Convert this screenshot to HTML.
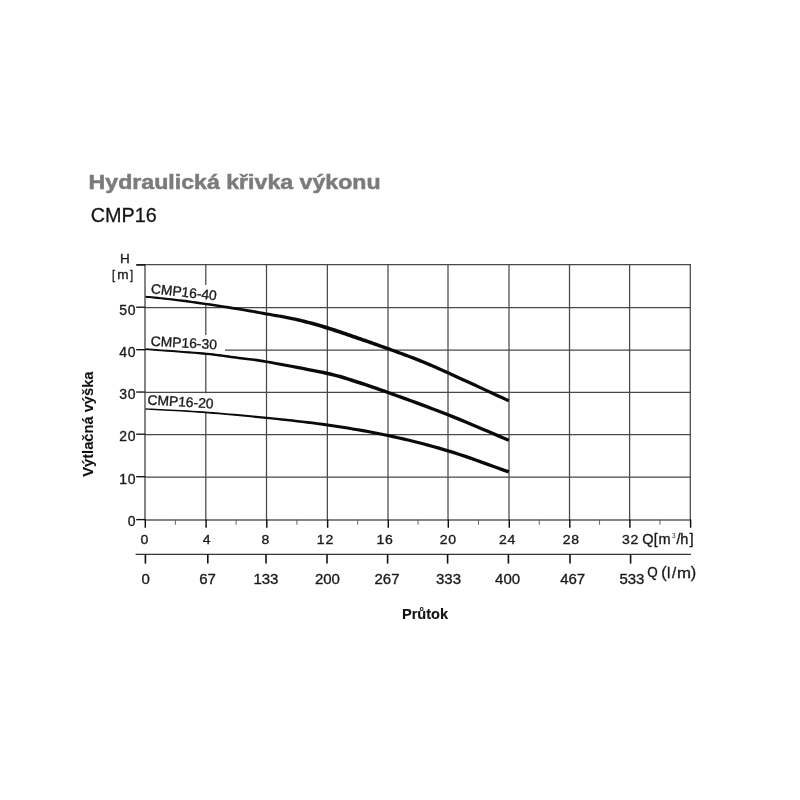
<!DOCTYPE html>
<html lang="cs"><head><meta charset="utf-8"><title>Hydraulická křivka výkonu CMP16</title>
<style>
html,body{margin:0;padding:0;background:#fff;}
body{width:800px;height:800px;position:relative;overflow:hidden;font-family:"Liberation Sans",sans-serif;}
</style></head><body>
<svg width="800" height="800" viewBox="0 0 800 800" style="position:absolute;left:0;top:0;will-change:transform">
<g font-family="Liberation Sans, sans-serif" stroke="#1a1a1a" stroke-width="0.35" id="all">
<g stroke="#484848" stroke-width="1.25" fill="none">
<line x1="205.80" y1="263.90" x2="205.80" y2="519.90"/>
<line x1="266.50" y1="263.90" x2="266.50" y2="519.90"/>
<line x1="327.35" y1="263.90" x2="327.35" y2="519.90"/>
<line x1="388.00" y1="263.90" x2="388.00" y2="519.90"/>
<line x1="448.00" y1="263.90" x2="448.00" y2="519.90"/>
<line x1="509.00" y1="263.90" x2="509.00" y2="519.90"/>
<line x1="569.50" y1="263.90" x2="569.50" y2="519.90"/>
<line x1="629.60" y1="263.90" x2="629.60" y2="519.90"/>
<line x1="690.30" y1="263.90" x2="690.30" y2="519.90"/>
<line x1="145.00" y1="477.00" x2="690.90" y2="477.00"/>
<line x1="145.00" y1="434.50" x2="690.90" y2="434.50"/>
<line x1="145.00" y1="392.35" x2="690.90" y2="392.35"/>
<line x1="145.00" y1="350.00" x2="690.90" y2="350.00"/>
<line x1="145.00" y1="307.50" x2="690.90" y2="307.50"/>
<line x1="145.00" y1="264.50" x2="690.90" y2="264.50"/>
</g>
<g stroke="#5c5c5c" stroke-width="1.5" fill="none">
<line x1="145.00" y1="263.90" x2="145.00" y2="520.60"/>
<line x1="145.00" y1="519.90" x2="690.90" y2="519.90"/>
</g>
<g fill="#fff" stroke="none">
<rect x="146" y="345" width="79" height="8"/>
<rect x="203" y="285" width="6" height="19"/>
<rect x="203" y="335" width="6" height="19"/>
<rect x="203" y="393.3" width="6" height="19"/>
</g>
<g stroke="#111" stroke-width="1.35">
<line x1="136.2" y1="519.60" x2="145.30" y2="519.60"/>
<line x1="136.2" y1="476.70" x2="145.30" y2="476.70"/>
<line x1="136.2" y1="434.20" x2="145.30" y2="434.20"/>
<line x1="136.2" y1="392.05" x2="145.30" y2="392.05"/>
<line x1="136.2" y1="349.70" x2="145.30" y2="349.70"/>
<line x1="136.2" y1="307.20" x2="145.30" y2="307.20"/>
<line x1="136.2" y1="264.90" x2="145.30" y2="264.90" stroke-width="1.7"/>
</g>
<g stroke="#0c0c0c" stroke-width="1.45">
<line x1="145.30" y1="519.50" x2="145.30" y2="527.8"/>
<line x1="206.10" y1="519.50" x2="206.10" y2="527.8"/>
<line x1="266.80" y1="519.50" x2="266.80" y2="527.8"/>
<line x1="327.65" y1="519.50" x2="327.65" y2="527.8"/>
<line x1="388.30" y1="519.50" x2="388.30" y2="527.8"/>
<line x1="448.30" y1="519.50" x2="448.30" y2="527.8"/>
<line x1="509.30" y1="519.50" x2="509.30" y2="527.8"/>
<line x1="569.80" y1="519.50" x2="569.80" y2="527.8"/>
<line x1="629.90" y1="519.50" x2="629.90" y2="527.8"/>
<line x1="690.60" y1="519.50" x2="690.60" y2="527.8"/>
</g>
<g stroke="#555" stroke-width="0.9">
<line x1="175.40" y1="519.90" x2="175.40" y2="524.8"/>
<line x1="236.15" y1="519.90" x2="236.15" y2="524.8"/>
<line x1="296.93" y1="519.90" x2="296.93" y2="524.8"/>
<line x1="357.68" y1="519.90" x2="357.68" y2="524.8"/>
<line x1="418.00" y1="519.90" x2="418.00" y2="524.8"/>
<line x1="478.50" y1="519.90" x2="478.50" y2="524.8"/>
<line x1="539.25" y1="519.90" x2="539.25" y2="524.8"/>
<line x1="599.55" y1="519.90" x2="599.55" y2="524.8"/>
<line x1="659.95" y1="519.90" x2="659.95" y2="524.8"/>
</g>
<line x1="135.6" y1="554.4" x2="691" y2="554.4" stroke="#333" stroke-width="1.2"/>
<g stroke="#111" stroke-width="1.6">
<line x1="145.40" y1="554.4" x2="145.40" y2="563.6"/>
<line x1="207.80" y1="554.4" x2="207.80" y2="563.6"/>
<line x1="266.00" y1="554.4" x2="266.00" y2="563.6"/>
<line x1="327.00" y1="554.4" x2="327.00" y2="563.6"/>
<line x1="387.60" y1="554.4" x2="387.60" y2="563.6"/>
<line x1="447.60" y1="554.4" x2="447.60" y2="563.6"/>
<line x1="508.40" y1="554.4" x2="508.40" y2="563.6"/>
<line x1="570.00" y1="554.4" x2="570.00" y2="563.6"/>
<line x1="630.60" y1="554.4" x2="630.60" y2="563.6"/>
</g>
<g fill="#0a0a0a" stroke="none">
<path d="M145.40,297.70 L147.16,297.89 L149.30,298.11 L151.78,298.36 L154.55,298.64 L157.58,298.95 L160.83,299.29 L164.27,299.66 L167.85,300.05 L171.53,300.47 L175.29,300.92 L179.07,301.39 L182.85,301.89 L186.79,302.44 L191.03,303.05 L195.52,303.70 L200.18,304.40 L204.95,305.12 L209.75,305.86 L214.54,306.60 L219.23,307.34 L223.77,308.06 L228.09,308.74 L232.11,309.39 L235.78,309.98 L239.10,310.52 L242.15,311.03 L244.97,311.51 L247.59,311.97 L250.06,312.40 L252.41,312.83 L254.67,313.25 L256.90,313.66 L259.12,314.07 L261.37,314.50 L263.70,314.93 L266.13,315.38 L268.63,315.84 L271.10,316.29 L273.55,316.73 L275.99,317.17 L278.43,317.61 L280.86,318.05 L283.29,318.51 L285.73,318.98 L288.17,319.47 L290.63,319.98 L293.11,320.53 L295.61,321.11 L298.15,321.71 L300.71,322.34 L303.29,322.99 L305.90,323.67 L308.51,324.37 L311.13,325.09 L313.76,325.82 L316.39,326.57 L319.01,327.34 L321.63,328.11 L324.23,328.89 L326.81,329.68 L329.37,330.48 L331.93,331.30 L334.49,332.13 L337.04,332.99 L339.59,333.85 L342.15,334.71 L344.70,335.58 L347.25,336.45 L349.79,337.32 L352.33,338.19 L354.87,339.06 L357.41,339.93 L359.93,340.78 L362.45,341.64 L364.96,342.49 L367.46,343.34 L369.96,344.20 L372.46,345.06 L374.95,345.92 L377.45,346.78 L379.94,347.65 L382.43,348.53 L384.92,349.41 L387.42,350.30 L389.92,351.20 L392.42,352.10 L394.92,353.00 L397.42,353.91 L399.92,354.82 L402.42,355.73 L404.91,356.66 L407.41,357.59 L409.90,358.53 L412.39,359.49 L414.88,360.47 L417.38,361.46 L419.77,362.42 L422.01,363.32 L424.14,364.20 L426.22,365.05 L428.29,365.92 L430.42,366.83 L432.65,367.79 L435.05,368.84 L437.66,369.99 L440.54,371.27 L443.74,372.70 L447.32,374.30 L451.50,376.19 L456.37,378.41 L461.78,380.88 L467.55,383.54 L473.55,386.29 L479.59,389.08 L485.54,391.82 L491.22,394.45 L496.48,396.88 L501.15,399.04 L505.09,400.85 L508.13,402.25 L509.47,399.35 L506.44,397.94 L502.50,396.12 L497.83,393.95 L492.57,391.52 L486.90,388.88 L480.96,386.13 L474.91,383.34 L468.92,380.57 L463.14,377.91 L457.74,375.42 L452.86,373.19 L448.68,371.30 L445.10,369.68 L441.89,368.24 L439.01,366.96 L436.39,365.80 L433.98,364.74 L431.73,363.77 L429.59,362.86 L427.50,361.98 L425.41,361.11 L423.27,360.23 L421.03,359.32 L418.62,358.34 L416.12,357.34 L413.61,356.36 L411.10,355.39 L408.59,354.44 L406.09,353.50 L403.58,352.57 L401.08,351.64 L398.58,350.73 L396.08,349.82 L393.58,348.91 L391.08,348.01 L388.58,347.10 L386.08,346.19 L383.59,345.29 L381.09,344.39 L378.60,343.50 L376.11,342.61 L373.62,341.73 L371.13,340.85 L368.63,339.97 L366.13,339.10 L363.62,338.22 L361.11,337.35 L358.59,336.47 L356.07,335.59 L353.54,334.71 L351.01,333.82 L348.47,332.92 L345.92,332.03 L343.37,331.14 L340.81,330.26 L338.24,329.40 L335.66,328.55 L333.08,327.73 L330.49,326.91 L327.89,326.12 L325.29,325.35 L322.66,324.58 L320.03,323.82 L317.39,323.07 L314.74,322.33 L312.08,321.61 L309.44,320.90 L306.80,320.22 L304.17,319.55 L301.55,318.91 L298.96,318.29 L296.39,317.69 L293.84,317.15 L291.32,316.63 L288.82,316.15 L286.34,315.70 L283.88,315.27 L281.42,314.85 L278.97,314.44 L276.53,314.04 L274.08,313.65 L271.62,313.25 L269.15,312.84 L266.67,312.42 L264.23,311.99 L261.91,311.57 L259.65,311.17 L257.43,310.77 L255.20,310.37 L252.92,309.96 L250.56,309.55 L248.08,309.13 L245.45,308.69 L242.61,308.23 L239.55,307.74 L236.22,307.22 L232.54,306.66 L228.50,306.05 L224.18,305.40 L219.63,304.72 L214.93,304.03 L210.13,303.33 L205.31,302.64 L200.53,301.96 L195.86,301.31 L191.36,300.69 L187.10,300.12 L183.15,299.61 L179.35,299.14 L175.55,298.70 L171.78,298.28 L168.08,297.88 L164.49,297.52 L161.04,297.18 L157.79,296.86 L154.75,296.58 L151.97,296.32 L149.50,296.08 L147.36,295.88 L145.60,295.70Z"/>
<path d="M145.44,350.05 L148.29,350.27 L151.98,350.55 L156.34,350.88 L161.25,351.25 L166.55,351.66 L172.12,352.08 L177.79,352.52 L183.44,352.97 L188.92,353.41 L194.08,353.85 L198.79,354.26 L202.89,354.65 L206.50,355.00 L209.82,355.36 L212.90,355.71 L215.76,356.06 L218.46,356.41 L221.03,356.76 L223.50,357.10 L225.92,357.45 L228.33,357.80 L230.76,358.14 L233.25,358.49 L235.84,358.84 L238.38,359.17 L240.73,359.46 L242.94,359.72 L245.08,359.97 L247.19,360.22 L249.34,360.48 L251.59,360.77 L253.99,361.10 L256.60,361.48 L259.47,361.93 L262.68,362.46 L266.27,363.08 L270.37,363.84 L275.00,364.70 L280.06,365.66 L285.43,366.69 L291.02,367.77 L296.70,368.89 L302.39,370.02 L307.97,371.15 L313.34,372.26 L318.39,373.33 L323.02,374.34 L327.11,375.26 L330.70,376.07 L333.92,376.85 L336.83,377.59 L339.47,378.30 L341.90,378.99 L344.17,379.66 L346.34,380.33 L348.46,381.01 L350.58,381.70 L352.75,382.41 L355.04,383.15 L357.47,383.92 L359.90,384.68 L362.15,385.39 L364.30,386.08 L366.38,386.76 L368.47,387.45 L370.60,388.16 L372.83,388.93 L375.23,389.76 L377.83,390.67 L380.69,391.69 L383.87,392.82 L387.42,394.10 L391.37,395.52 L395.68,397.08 L400.29,398.75 L405.17,400.51 L410.25,402.36 L415.49,404.28 L420.84,406.25 L426.24,408.26 L431.65,410.29 L437.01,412.33 L442.27,414.35 L447.38,416.36 L452.61,418.45 L458.16,420.71 L463.93,423.09 L469.82,425.54 L475.71,428.02 L481.50,430.47 L487.09,432.85 L492.36,435.09 L497.21,437.16 L501.53,439.01 L505.21,440.58 L508.16,441.82 L509.44,438.78 L506.50,437.54 L502.82,435.97 L498.51,434.12 L493.66,432.05 L488.39,429.79 L482.80,427.41 L477.00,424.96 L471.10,422.47 L465.21,420.01 L459.43,417.61 L453.86,415.34 L448.62,413.24 L443.48,411.23 L438.21,409.19 L432.84,407.14 L427.42,405.11 L422.01,403.09 L416.66,401.11 L411.41,399.19 L406.33,397.33 L401.45,395.56 L396.83,393.89 L392.52,392.33 L388.58,390.90 L385.03,389.61 L381.85,388.47 L378.98,387.44 L376.37,386.51 L373.96,385.67 L371.71,384.89 L369.57,384.16 L367.47,383.46 L365.37,382.77 L363.21,382.07 L360.95,381.35 L358.53,380.58 L356.11,379.81 L353.84,379.07 L351.67,378.35 L349.54,377.66 L347.40,376.96 L345.20,376.28 L342.89,375.58 L340.42,374.87 L337.73,374.14 L334.79,373.38 L331.52,372.58 L327.89,371.74 L323.76,370.87 L319.10,369.92 L314.02,368.93 L308.62,367.89 L303.01,366.84 L297.30,365.79 L291.58,364.75 L285.98,363.74 L280.58,362.79 L275.51,361.91 L270.85,361.11 L266.73,360.42 L263.12,359.82 L259.89,359.30 L256.98,358.87 L254.35,358.50 L251.92,358.19 L249.66,357.91 L247.49,357.66 L245.37,357.42 L243.23,357.19 L241.02,356.94 L238.69,356.67 L236.16,356.36 L233.58,356.02 L231.10,355.69 L228.67,355.36 L226.26,355.03 L223.83,354.69 L221.35,354.36 L218.77,354.03 L216.05,353.70 L213.17,353.36 L210.07,353.03 L206.73,352.69 L203.11,352.35 L198.98,352.01 L194.26,351.64 L189.08,351.26 L183.60,350.88 L177.94,350.49 L172.26,350.11 L166.69,349.74 L161.38,349.39 L156.47,349.07 L152.10,348.79 L148.42,348.54 L145.56,348.35Z"/>
<path d="M145.46,409.70 L148.22,409.85 L151.65,410.04 L155.66,410.24 L160.15,410.48 L165.04,410.73 L170.24,411.01 L175.66,411.31 L181.22,411.62 L186.81,411.96 L192.35,412.31 L197.76,412.67 L202.94,413.05 L208.02,413.45 L213.19,413.88 L218.44,414.32 L223.74,414.79 L229.08,415.28 L234.44,415.78 L239.82,416.29 L245.20,416.82 L250.56,417.35 L255.89,417.90 L261.17,418.44 L266.39,419.00 L271.56,419.56 L276.70,420.12 L281.81,420.68 L286.91,421.25 L291.98,421.83 L297.04,422.42 L302.09,423.03 L307.14,423.66 L312.17,424.31 L317.21,424.99 L322.25,425.70 L327.29,426.44 L332.35,427.19 L337.40,427.96 L342.44,428.74 L347.48,429.55 L352.52,430.38 L357.56,431.24 L362.58,432.13 L367.61,433.04 L372.63,433.99 L377.65,434.98 L382.66,436.00 L387.67,437.06 L392.67,438.16 L397.66,439.27 L402.65,440.42 L407.63,441.60 L412.61,442.81 L417.58,444.06 L422.56,445.35 L427.54,446.67 L432.52,448.03 L437.51,449.44 L442.51,450.89 L447.52,452.38 L452.73,454.00 L458.27,455.80 L464.03,457.74 L469.91,459.76 L475.80,461.83 L481.59,463.89 L487.17,465.89 L492.43,467.80 L497.28,469.56 L501.60,471.13 L505.29,472.46 L508.23,473.50 L509.37,470.30 L506.43,469.26 L502.75,467.94 L498.43,466.38 L493.58,464.63 L488.31,462.73 L482.71,460.73 L476.91,458.67 L471.01,456.61 L465.10,454.59 L459.31,452.65 L453.73,450.85 L448.48,449.22 L443.44,447.73 L438.41,446.28 L433.39,444.88 L428.38,443.52 L423.38,442.19 L418.38,440.91 L413.38,439.67 L408.38,438.46 L403.38,437.28 L398.37,436.14 L393.36,435.02 L388.33,433.94 L383.30,432.89 L378.26,431.89 L373.21,430.92 L368.17,429.99 L363.12,429.10 L358.07,428.23 L353.02,427.40 L347.96,426.59 L342.90,425.80 L337.84,425.04 L332.78,424.29 L327.71,423.56 L322.64,422.87 L317.57,422.22 L312.51,421.60 L307.46,421.00 L302.40,420.43 L297.33,419.88 L292.26,419.34 L287.17,418.82 L282.06,418.31 L276.94,417.81 L271.79,417.31 L266.61,416.80 L261.39,416.29 L256.10,415.78 L250.76,415.28 L245.39,414.79 L240.01,414.31 L234.62,413.84 L229.24,413.38 L223.89,412.93 L218.59,412.51 L213.34,412.10 L208.16,411.72 L203.06,411.35 L197.87,411.00 L192.46,410.66 L186.90,410.34 L181.30,410.04 L175.75,409.75 L170.32,409.48 L165.12,409.23 L160.22,409.00 L155.73,408.79 L151.72,408.60 L148.30,408.44 L145.54,408.30Z"/>
</g>
<g fill="#1a1a1a">
<text x="127.76" y="525.50" font-size="14">0</text>
<text x="119.27" y="483.70" font-size="14" letter-spacing="0.7">10</text>
<text x="119.27" y="440.90" font-size="14" letter-spacing="0.7">20</text>
<text x="119.27" y="398.55" font-size="14" letter-spacing="0.7">30</text>
<text x="119.27" y="357.10" font-size="14" letter-spacing="0.7">40</text>
<text x="119.27" y="314.60" font-size="14" letter-spacing="0.7">50</text>
<text x="120.12" y="263.20" font-size="13.5">H</text>
<text transform="translate(112.06,279.00) scale(0.85,1)" font-size="13.4">[</text>
<text x="117.23" y="278.70" font-size="13.6">m</text>
<text transform="translate(129.98,279.00) scale(0.85,1)" font-size="13.4">]</text>
</g>
<g fill="#1a1a1a">
<text transform="translate(140.40,543.80) scale(1.04,1)" font-size="13.5">0</text>
<text transform="translate(202.64,543.80) scale(1.04,1)" font-size="13.5">4</text>
<text transform="translate(261.50,543.80) scale(1.04,1)" font-size="13.5">8</text>
<text transform="translate(316.79,543.80) scale(1.04,1)" font-size="13.5" letter-spacing="0.8">12</text>
<text transform="translate(376.45,543.80) scale(1.04,1)" font-size="13.5" letter-spacing="0.8">16</text>
<text transform="translate(439.70,543.80) scale(1.04,1)" font-size="13.5" letter-spacing="0.8">20</text>
<text transform="translate(498.93,543.80) scale(1.04,1)" font-size="13.5" letter-spacing="0.8">24</text>
<text transform="translate(562.73,543.80) scale(1.04,1)" font-size="13.5" letter-spacing="0.8">28</text>
<text transform="translate(621.96,543.80) scale(1.04,1)" font-size="13.5" letter-spacing="0.8">32</text>
<text x="642.26" y="543.90" font-size="14.5">Q</text>
<text x="653.78" y="543.90" font-size="14.5">[</text>
<text x="658.56" y="543.90" font-size="14.5">m</text>
<text x="676.59" y="543.90" font-size="14.5">/</text>
<text x="680.24" y="543.90" font-size="14.5">h</text>
<text x="689.55" y="543.90" font-size="14.5">]</text>
<text x="672.11" y="537.80" font-size="6.5" stroke="none" fill="#2a2a2a">3</text>
</g>
<g fill="#1a1a1a">
<text x="141.53" y="583.90" font-size="15">0</text>
<text x="199.25" y="583.90" font-size="15">67</text>
<text x="253.44" y="583.90" font-size="15">133</text>
<text x="314.90" y="583.90" font-size="15">200</text>
<text x="374.49" y="583.90" font-size="15">267</text>
<text x="436.03" y="583.90" font-size="15">333</text>
<text x="495.11" y="583.90" font-size="15">400</text>
<text x="560.19" y="583.90" font-size="15">467</text>
<text x="619.42" y="583.90" font-size="15">533</text>
<text transform="translate(647.26,576.70) scale(0.93,1)" font-size="14.5">Q</text>
<text x="661.23" y="578.10" font-size="16.3">(</text>
<text x="667.03" y="577.70" font-size="15">l</text>
<text x="671.92" y="577.70" font-size="15">/</text>
<text transform="translate(676.90,577.70) scale(1.12,1)" font-size="15">m</text>
<text x="690.74" y="578.10" font-size="16.3">)</text>
</g>
<g font-size="13.85" fill="#1a1a1a">
<text transform="translate(150.5,293.2) rotate(6.3)">CMP16-40</text>
<text transform="translate(150.5,345.7) rotate(3.2)">CMP16-30</text>
<text transform="translate(147.2,404.4) rotate(3.5)">CMP16-20</text>
</g>
<text transform="translate(93,476.8) rotate(-90)" font-size="15" font-weight="bold" fill="#111" stroke-width="0.1" textLength="105.3" lengthAdjust="spacingAndGlyphs">Výtlačná výška</text>
<text transform="translate(401.95,619.40) scale(0.96,1)" font-size="15.2" font-weight="bold" fill="#111" stroke-width="0.1">Průtok</text>
<text x="88.6" y="189.3" font-size="20" font-weight="bold" fill="#7b7b7b" stroke="#7b7b7b" stroke-width="0.5" textLength="292" lengthAdjust="spacingAndGlyphs">Hydraulická křivka výkonu</text>
<text x="90.8" y="221.8" font-size="21" fill="#141414" stroke-width="0.3" textLength="66" lengthAdjust="spacingAndGlyphs">CMP16</text>
</g></svg>
</body></html>
